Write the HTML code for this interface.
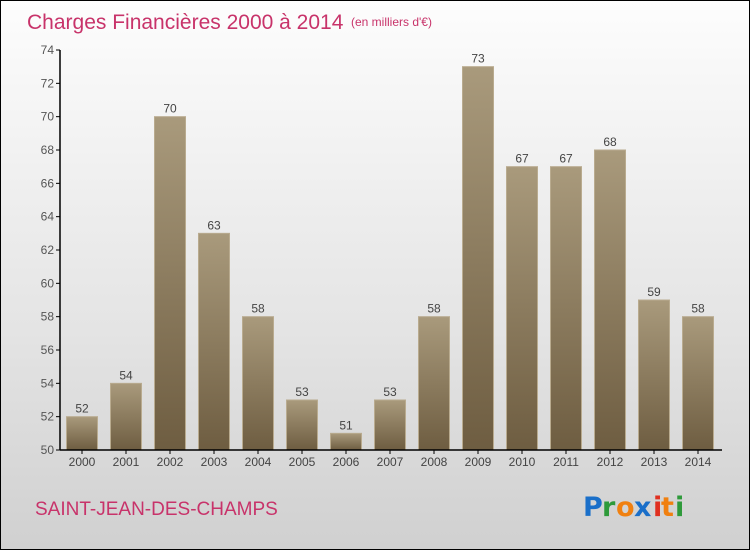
<!DOCTYPE html>
<html><head><meta charset="utf-8"><style>
body{margin:0;width:750px;height:550px;overflow:hidden;font-family:"Liberation Sans",sans-serif}
#wrap{position:absolute;left:0;top:0;width:748px;height:548px;border:1px solid #000;background:linear-gradient(#fdfdfd,#e4e4e4 60%,#d0d0d0)}
</style></head><body>
<div id="wrap">
<svg width="750" height="550" style="position:absolute;left:-1px;top:-1px">
<defs><linearGradient id="bg" x1="0" y1="0" x2="0" y2="1"><stop offset="0" stop-color="#a99a7c"/><stop offset="1" stop-color="#6e5d41"/></linearGradient></defs>
<text x="27" y="29" font-size="21" fill="#c8336a">Charges Financières 2000 à 2014</text>
<text x="351" y="26" font-size="12" fill="#c8336a">(en milliers d'€)</text>
<g id="plot"></g>
<text x="35" y="515" font-size="19" fill="#c8336a">SAINT-JEAN-DES-CHAMPS</text>
<g font-size="27" font-weight="bold" font-family="'DejaVu Sans',sans-serif">
<text x="583" y="516" fill="#1a6fc9">P</text><text x="602" y="516" fill="#2e9a3a">r</text><text x="616" y="516" fill="#f08010">o</text><text x="634" y="516" fill="#1a6fc9">x</text><text x="653" y="516" fill="#e03020">i</text><text x="661" y="516" fill="#f08010">t</text><text x="675" y="516" fill="#2e9a3a">i</text>
</g>
</svg>
</div>
<script>
const years=["2000","2001","2002","2003","2004","2005","2006","2007","2008","2009","2010","2011","2012","2013","2014"];
const values=[52,54,70,63,58,53,51,53,58,73,67,67,68,59,58];
const yTicks=[50,52,54,56,58,60,62,64,66,68,70,72,74];
const NS="http://www.w3.org/2000/svg";
const g=document.getElementById('plot');
const x0=60,step=44,yMin=50,yMax=74,yTop=50,yBot=450;
const y=v=>yBot-(v-yMin)/(yMax-yMin)*(yBot-yTop);
function mk(t,a){const e=document.createElementNS(NS,t);for(const k in a)e.setAttribute(k,a[k]);g.appendChild(e);return e;}
yTicks.forEach(t=>{
 const l=mk('line',{x1:56,x2:60,y1:y(t),y2:y(t),stroke:'#000'});
 
 
 const tx=mk('text',{x:54,y:y(t)+4,'text-anchor':'end','font-size':12,fill:'#555'});tx.textContent=t;
 
 
});
values.forEach((v,i)=>{
 const cx=x0+step*i+step/2;
 const r=mk('rect',{x:cx-15.5,y:y(v),width:31,height:yBot-y(v),fill:'url(#bg)',stroke:'#b9ab8f','stroke-width':1});
 
 
 const vl=mk('text',{x:cx,y:y(v)-4,'text-anchor':'middle','font-size':12,fill:'#444'});vl.textContent=v;
 
 
 const tk=mk('line',{x1:cx,x2:cx,y1:yBot,y2:yBot+4,stroke:'#000'});
 
 
 const xl=mk('text',{x:cx,y:466,'text-anchor':'middle','font-size':12,fill:'#444'});xl.textContent=years[i];
 
 
});
const ya=mk('line',{x1:60,x2:60,y1:yTop,y2:yBot,stroke:'#000','stroke-width':1.5});


const xa=mk('line',{x1:60,x2:722,y1:yBot,y2:yBot,stroke:'#000','stroke-width':1.5});


</script>
</body></html>
